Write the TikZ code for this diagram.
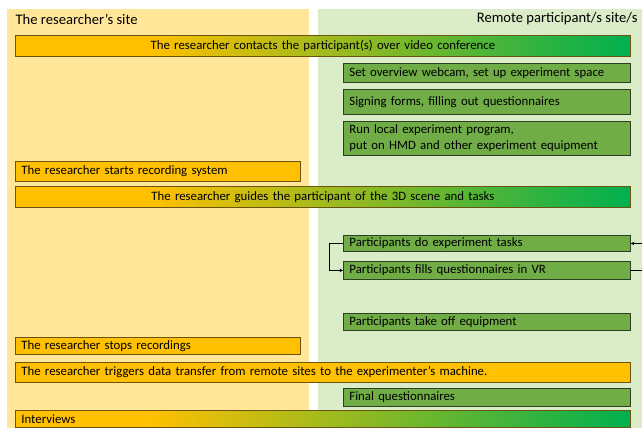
\documentclass[tikz,border=0pt]{standalone}
\usepackage{fontspec}
\setmainfont{Carlito}
\usetikzlibrary{arrows.meta}

\definecolor{sitegold}{HTML}{FFC000}
\definecolor{sitegreen}{HTML}{00B050}
\definecolor{taskgreen}{HTML}{70AD47}
\definecolor{researchbg}{HTML}{FFE699}
\definecolor{remotebg}{HTML}{DAEDC8}
\definecolor{goldline}{HTML}{6B5410}
\definecolor{greenline}{HTML}{2C3F22}
\pgfdeclarehorizontalshading{sitefade}{100bp}{color(0bp)=(sitegold); color(36bp)=(sitegold); color(75bp)=(sitegreen); color(100bp)=(sitegreen)}

\begin{document}
\begin{tikzpicture}[x=1pt, y=-1pt,
    sitebox/.style={draw, line width=0.8pt, anchor=north west, inner xsep=6pt, inner ysep=0pt, align=left, font=\fontsize{12.8}{16}\selectfont},
    shared/.style={sitebox, draw=goldline, shading=sitefade, minimum width=615, text width=603},
    researcher/.style={sitebox, draw=goldline, fill=sitegold, minimum width=285, text width=273},
    participant/.style={sitebox, draw=greenline, fill=taskgreen, minimum width=287, text width=275},
    loopline/.style={draw=black, line width=0.6pt, -{Stealth[length=3.5pt, width=3.5pt]}}
  ]
    \useasboundingbox (0,0) rectangle (642,428);

    % Sites
    \fill[researchbg] (7,9) rectangle (309,428);
    \fill[remotebg] (318,9) rectangle (642,428);
    \node[font=\fontsize{14.6}{17}\selectfont, anchor=west] (leftsite) at (12,19) {The researcher’s site};
    \node[font=\fontsize{14.6}{17}\selectfont, anchor=east] (rightsite) at (641,19) {Remote participant/s site/s};

    % Steps
    \node[shared, align=center, minimum height=21] (s1) at (15,35) {The researcher contacts the participant(s) over video conference};
    \node[participant, minimum height=19] (p1) at (343,63) {Set overview webcam, set up experiment space};
    \node[participant, minimum height=25] (p2) at (343,89) {Signing forms, filling out questionnaires};
    \node[participant, minimum height=34] (p3) at (343,121) {Run local experiment program,\\put on HMD and other experiment equipment};
    \node[researcher, minimum height=20] (r1) at (15,161) {The researcher starts recording system};
    \node[shared, align=center, minimum height=21] (s2) at (15,186) {The researcher guides the participant of the 3D scene and tasks};
    \node[participant, minimum height=16] (p4) at (343,235) {Participants do experiment tasks};
    \node[participant, minimum height=18] (p5) at (343,261) {Participants fills questionnaires in VR};
    \node[participant, minimum height=17] (p6) at (343,313) {Participants take off equipment};
    \node[researcher, minimum height=17] (r2) at (15,337) {The researcher stops recordings};
    \node[researcher, minimum width=615, text width=603, minimum height=20] (r3) at (15,362) {The researcher triggers data transfer from remote sites to the experimenter’s machine.};
    \node[participant, minimum height=18] (p7) at (343,388) {Final questionnaires};
    \node[shared, minimum height=17] (s3) at (15,410) {Interviews};

    % Loop
    \coordinate (loopL) at (329,0);
    \coordinate (loopR) at (642,0);
    \draw[loopline] (p4.west) -- (p4.west -| loopL) -- (p5.west -| loopL) -- (p5.west);
    \draw[line width=0.6pt] (p5.east) -- (p5.east -| loopR);
    \draw[loopline] (p4.east -| loopR) -- (p4.east);
\end{tikzpicture}
\end{document}
